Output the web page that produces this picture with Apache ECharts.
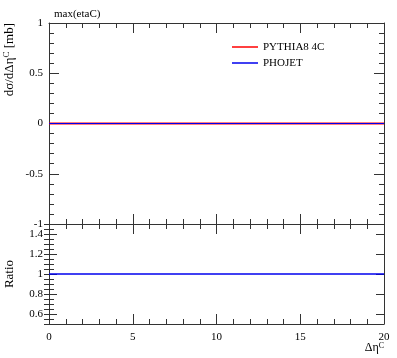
<!DOCTYPE html>
<html>
<head>
<meta charset="utf-8">
<script src="https://cdn.jsdelivr.net/npm/echarts@6/dist/echarts.min.js"></script>
<style>
  html, body { margin: 0; padding: 0; background: #fff; }
  #chart { width: 397px; height: 358px; }
</style>
</head>
<body>
<div id="chart"></div>
<script>
// histogram bin edges and values (all flat)
const binEdges = [0, 20]
const pythiaVals = [0, 0]
const phojetVals = [0, 0]
const ratioVals = [1, 1]

// tick labels
const xTicks = [0, 5, 10, 15, 20]
const mainYTicks = [-1, -0.5, 0, 0.5, 1]
const ratioYTicks = [0.6, 0.8, 1, 1.2, 1.4]

const FONT = 'Liberation Serif'
const FRAME = '#333'
const RED = '#ff0000'
const BLUE = '#0000ee'

const chart = echarts.init(document.getElementById('chart'))

const toPairs = vals => binEdges.map((x, i) => [x, vals[i]])

// common axis pieces
const tickIn = len => ({ show: true, inside: true, length: len, lineStyle: { color: FRAME, width: 1 } })
const minorIn = n => ({ show: true, splitNumber: n, length: 5, lineStyle: { color: FRAME, width: 1 } })
const lineOn = { show: true, onZero: false, lineStyle: { color: FRAME, width: 1 } }

function xAxisFor (gridIndex, position, labels) {
  return {
    type: 'value',
    gridIndex,
    position,
    min: 0,
    max: 20,
    interval: 5,
    axisLine: lineOn,
    axisTick: tickIn(10),
    minorTick: minorIn(5),
    splitLine: { show: false },
    axisLabel: labels
      ? { show: true, fontFamily: FONT, fontSize: 11, color: '#000', margin: 8, customValues: xTicks }
      : { show: false },
  }
}

const option = {
  animation: false,
  textStyle: { fontFamily: FONT },
  title: {
    text: 'max(etaC)',
    left: 49,
    top: 4,
    textStyle: { fontFamily: FONT, fontSize: 11, fontWeight: 'normal', color: '#000' },
  },
  legend: {
    orient: 'vertical',
    left: 227,
    top: 36,
    itemWidth: 26,
    itemHeight: 1.5,
    itemGap: 4,
    icon: 'rect',
    textStyle: { fontFamily: FONT, fontSize: 11, color: '#000', lineHeight: 12 },
    data: ['PYTHIA8 4C', 'PHOJET'],
  },
  grid: [
    { left: 49, top: 23, width: 335, height: 201 },
    { left: 49, top: 224, width: 335, height: 100 },
  ],
  xAxis: [
    xAxisFor(0, 'bottom', false),
    xAxisFor(0, 'top', false),
    xAxisFor(1, 'bottom', true),
    xAxisFor(1, 'top', false),
  ],
  yAxis: [
    {
      type: 'value', gridIndex: 0, position: 'left',
      min: -1, max: 1, interval: 0.5,
      axisLine: lineOn, axisTick: tickIn(10), minorTick: minorIn(5),
      splitLine: { show: false },
      axisLabel: {
        fontFamily: FONT, fontSize: 11, color: '#000', margin: 6,
        customValues: mainYTicks,
      },
    },
    {
      type: 'value', gridIndex: 0, position: 'right',
      min: -1, max: 1, interval: 0.5,
      axisLine: lineOn, axisTick: tickIn(10), minorTick: minorIn(5),
      splitLine: { show: false }, axisLabel: { show: false },
    },
    {
      type: 'value', gridIndex: 1, position: 'left',
      min: 0.5, max: 1.5, interval: 0.05,
      axisLine: lineOn,
      axisTick: Object.assign(tickIn(8), { customValues: ratioYTicks }),
      splitLine: { show: false },
      axisLabel: {
        fontFamily: FONT, fontSize: 11, color: '#000', margin: 6,
        customValues: ratioYTicks,
      },
    },
    {
      type: 'value', gridIndex: 1, position: 'left',
      min: 0.5, max: 1.5, interval: 0.05,
      axisLine: { show: false }, axisTick: tickIn(5),
      splitLine: { show: false }, axisLabel: { show: false },
    },
    {
      type: 'value', gridIndex: 1, position: 'right',
      min: 0.5, max: 1.5, interval: 0.05,
      axisLine: lineOn,
      axisTick: Object.assign(tickIn(8), { customValues: ratioYTicks }),
      splitLine: { show: false }, axisLabel: { show: false },
    },
    {
      type: 'value', gridIndex: 1, position: 'right',
      min: 0.5, max: 1.5, interval: 0.05,
      axisLine: { show: false }, axisTick: tickIn(5),
      splitLine: { show: false }, axisLabel: { show: false },
    },
  ],
  graphic: [
    {
      type: 'text', x: 10, y: 23, rotation: Math.PI / 2,
      style: {
        text: '{n|dσ/dΔη}{s|C}{n| [mb]}',
        align: 'right', verticalAlign: 'middle',
        rich: {
          n: { fontFamily: FONT, fontSize: 13, fill: '#000' },
          s: { fontFamily: FONT, fontSize: 9, fill: '#000', verticalAlign: 'top', padding: [0, 0, 6, 0] },
        },
      },
    },
    {
      type: 'text', x: 10, y: 274, rotation: Math.PI / 2,
      style: {
        text: 'Ratio', align: 'center', verticalAlign: 'middle',
        fontFamily: FONT, fontSize: 13, fill: '#000',
      },
    },
    {
      type: 'text', x: 384, y: 348,
      style: {
        text: '{n|Δη}{s|C}',
        align: 'right', verticalAlign: 'middle',
        rich: {
          n: { fontFamily: FONT, fontSize: 12, fill: '#000' },
          s: { fontFamily: FONT, fontSize: 8, fill: '#000', verticalAlign: 'top', padding: [0, 0, 5, 0] },
        },
      },
    },
  ],
  series: [
    {
      name: 'PYTHIA8 4C', type: 'line', xAxisIndex: 0, yAxisIndex: 0,
      step: 'end', symbol: 'none', data: toPairs(pythiaVals),
      lineStyle: { color: RED, width: 2 }, itemStyle: { color: RED },
    },
    {
      name: 'PHOJET', type: 'line', xAxisIndex: 0, yAxisIndex: 0,
      step: 'end', symbol: 'none', data: toPairs(phojetVals),
      lineStyle: { color: BLUE, width: 1 }, itemStyle: { color: BLUE },
    },
    {
      name: 'PHOJET/ref', type: 'line', xAxisIndex: 2, yAxisIndex: 2,
      step: 'end', symbol: 'none', data: toPairs(ratioVals),
      lineStyle: { color: BLUE, width: 1.6 }, itemStyle: { color: BLUE },
    },
  ],
}

chart.setOption(option)
</script>
</body>
</html>
